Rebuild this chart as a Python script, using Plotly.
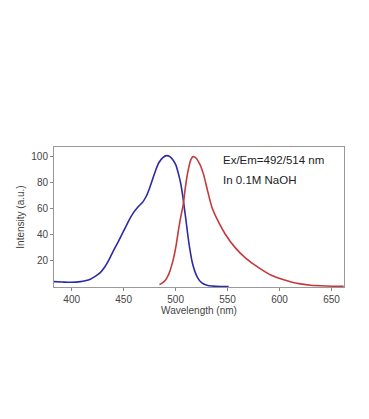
import plotly.graph_objects as go

# Excitation spectrum (blue)
ex_wl = [383, 391, 399, 408.5, 413, 418, 423, 427.5, 432, 436, 440, 445, 450, 455, 459, 464, 468.7, 472, 475, 478, 481, 484,
         487.7, 491.5, 494.5, 497.5, 500.3, 503, 505, 507, 508.5, 510, 511.4, 513.5, 516, 518.5, 521, 524, 527, 531, 535, 543, 551]
ex_int = [4.1, 3.8, 3.6, 4.1, 4.8, 6, 8.3, 11, 15.5, 21, 27.5, 35, 43, 51, 56.5, 61.5, 65.5, 70, 76, 83, 90, 95.5,
          99.3, 100.8, 100, 97.5, 93.5, 86, 79, 69, 60, 51, 42, 30, 19, 12, 7.4, 4, 2.3, 1.2, 0.8, 0.4, 0.3]

# Emission spectrum (red)
em_wl = [484.5, 487, 490, 492, 494, 496, 498, 500.5, 503, 505, 507.3, 509, 511, 512.5, 514, 515.5, 517, 518.5, 520, 522, 524,
         527, 530.4, 535, 541.5, 547.8, 557.3, 566.8, 579.5, 592, 604.8, 612, 620, 630, 645, 661.7]
em_int = [1.8, 3, 5, 7.5, 11, 16, 22, 32, 45, 54, 63, 74, 85, 91, 96, 99, 100, 99.6, 98.5, 96, 93,
          86, 75, 61, 49.5, 40.5, 30.2, 22.6, 15, 9, 5.3, 3.6, 2.4, 1.4, 0.8, 0.5]

x_ticks = [400, 450, 500, 550, 600, 650]
y_ticks = [20, 40, 60, 80, 100]

fig = go.Figure()
fig.add_trace(go.Scatter(x=ex_wl, y=ex_int, mode="lines",
                         line=dict(color="#2b2ba6", width=1.6, shape="spline", smoothing=0.6),
                         showlegend=False))
fig.add_trace(go.Scatter(x=em_wl, y=em_int, mode="lines",
                         line=dict(color="#c43a3c", width=1.6, shape="spline", smoothing=0.6),
                         showlegend=False))

axis_font = dict(family="Liberation Sans, Arial, sans-serif", size=10, color="#444")
fig.update_layout(
    width=369, height=419,
    margin=dict(l=42, r=33, t=139, b=140),
    paper_bgcolor="white", plot_bgcolor="white",
    font=axis_font,
    xaxis=dict(range=[383, 662], tickvals=x_ticks, ticks="outside", ticklen=3,
               tickcolor="#888", showgrid=False, zeroline=False,
               showline=True, linecolor="#999", linewidth=1, mirror=True,
               title=dict(text="Wavelength (nm)", standoff=2, font=dict(size=10, color="#444")),
               tickfont=dict(size=10, color="#444")),
    yaxis=dict(range=[0, 107.4], tickvals=y_ticks, ticks="outside", ticklen=3,
               tickcolor="#888", showgrid=False, zeroline=False,
               showline=True, linecolor="#999", linewidth=1, mirror=True,
               title=dict(text="Intensity (a.u.)", standoff=4, font=dict(size=10, color="#444")),
               tickfont=dict(size=10, color="#444")),
    annotations=[
        dict(text="Ex/Em=492/514 nm", x=0.575, y=0.905, xref="paper", yref="paper",
             xanchor="left", yanchor="middle", showarrow=False,
             font=dict(size=11.5, color="#222")),
        dict(text="In 0.1M NaOH", x=0.575, y=0.765, xref="paper", yref="paper",
             xanchor="left", yanchor="middle", showarrow=False,
             font=dict(size=11.5, color="#222")),
    ],
)

fig.write_html("out.html")
